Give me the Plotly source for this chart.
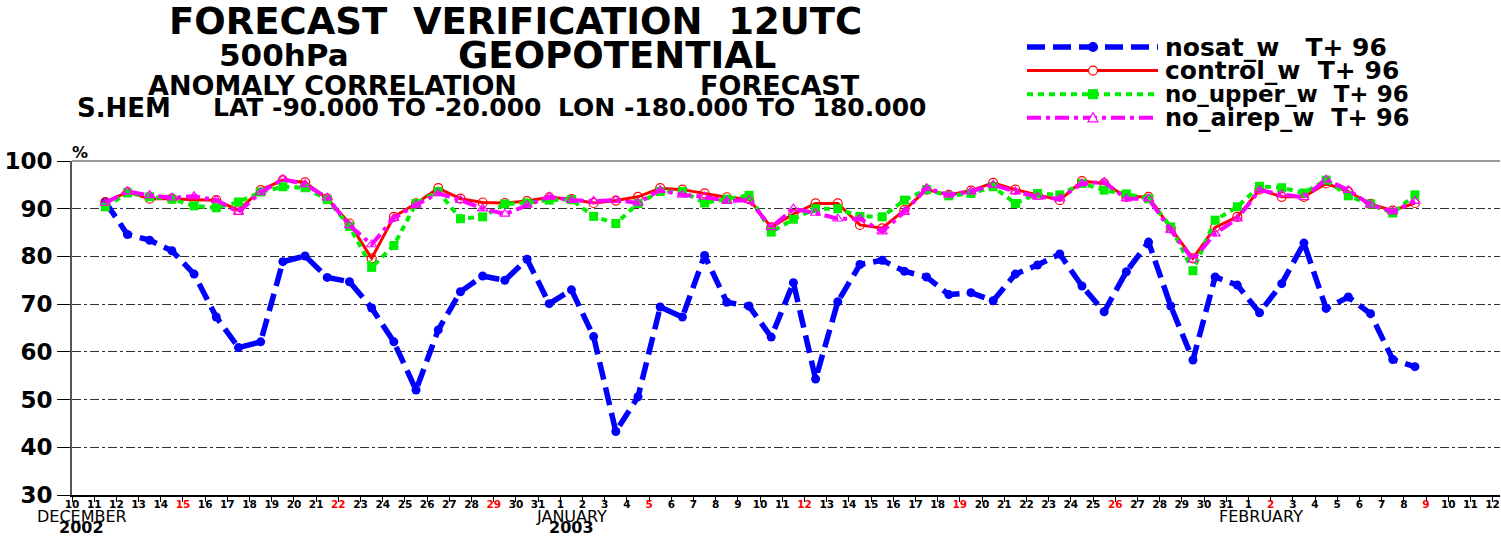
import pandas as pd
import plotly.graph_objects as go

# ---------------- data ----------------
dates = pd.date_range("2002-12-11 12:00", periods=60, freq="D")

nosat_w = [91.4, 84.6, 83.4, 81.2, 76.3, 67.3, 60.9, 62.1, 78.9, 80.1, 75.6, 74.7, 69.2, 62.1, 52.0, 64.6,
           72.6, 75.9, 75.0, 79.4, 70.1,
           73.0, 63.2, 43.3, 50.6, 69.4, 67.3, 80.2, 70.4, 69.6, 63.1, 74.5, 54.3, 70.5, 78.3, 79.2, 76.9,
           75.7, 72.0, 72.4, 70.7, 76.3, 78.2, 80.5, 73.8, 68.4, 76.8, 83.0, 69.6, 58.3, 75.7, 74.0,
           68.2, 74.3, 82.8, 69.1, 71.5, 68.0, 58.4, 56.9]
control_w = [91.4, 93.5, 92.1, 92.1, 91.9, 91.8, 89.7, 93.9, 96.0, 95.5, 92.1, 86.9, 79.6, 88.3, 91.1, 94.3,
             92.1, 91.3, 91.2, 91.6, 92.4,
             92.0, 91.2, 91.7, 92.5, 94.3, 94.0, 93.2, 92.4, 92.0, 86.1, 88.9, 91.1, 91.1, 86.6, 85.9, 89.7,
             94.0, 92.9, 93.8, 95.4, 94.0, 92.9, 91.8, 95.8, 95.3, 92.5, 92.5, 85.9, 79.6, 86.1, 88.3,
             94.0, 92.5, 92.5, 95.3, 93.6, 91.0, 89.6, 91.2]
no_upper_w = [90.4, 93.3, 92.5, 92.0, 90.6, 90.2, 91.4, 93.5, 94.6, 94.4, 91.9, 86.3, 77.7, 82.3, 91.1, 93.6,
              87.9, 88.3, 91.0, 91.2, 91.8,
              91.9, 88.4, 86.9, 91.1, 93.6, 93.6, 91.2, 92.0, 92.8, 85.1, 87.8, 90.0, 90.0, 88.4, 88.3, 91.8,
              94.0, 92.7, 93.2, 94.6, 91.1, 93.2, 92.9, 95.3, 93.9, 93.1, 92.1, 86.2, 77.0, 87.6, 90.4,
              94.7, 94.4, 93.3, 96.0, 92.7, 91.0, 89.1, 92.9]
no_airep_w = [91.2, 93.6, 92.8, 92.3, 92.6, 91.8, 89.3, 93.4, 96.2, 95.1, 92.3, 86.5, 82.5, 88.0, 90.8, 93.2,
              91.8, 90.0, 88.9, 90.8, 92.5,
              91.8, 91.6, 91.8, 91.2, 93.9, 92.9, 92.5, 91.6, 91.8, 86.1, 90.0, 89.1, 87.9, 87.9, 85.2, 89.3,
              94.3, 92.9, 93.6, 95.0, 93.6, 92.5, 92.1, 95.3, 95.6, 92.1, 92.1, 85.5, 79.3, 84.8, 87.9,
              93.9, 93.0, 92.4, 96.1, 93.9, 90.8, 89.4, 91.6]

series_names = ["nosat_w  T+ 96", "control_w  T+ 96", "no_upper_w  T+ 96", "no_airep_w  T+ 96"]

tick_days = pd.date_range("2002-12-10", "2003-02-12", freq="D")
y_ticks = [30, 40, 50, 60, 70, 80, 90, 100]

# ---------------- geometry / style ----------------
W, H = 1501, 536
L, R, T, B = 72, 1, 161, 41
FONT = "DejaVu Sans"
NB = "\u00a0"


def pp(px, py):
    return (px - L) / (W - L - R), (H - B - py) / (H - T - B)


styles = [
    dict(color="#0000ff", width=5.5, dash="18px,8px", symbol="circle", msize=9, mline=0),
    dict(color="#ff0000", width=3, dash="solid", symbol="circle-open", msize=9, mline=1.2),
    dict(color="#00ee00", width=4, dash="6px,5px", symbol="square", msize=9, mline=0),
    dict(color="#ff00ff", width=4, dash="14px,5px,4px,5px", symbol="triangle-up-open", msize=9, mline=1.2),
]
values = [nosat_w, control_w, no_upper_w, no_airep_w]

fig = go.Figure()
for name, vals, st in zip(series_names, values, styles):
    fig.add_trace(go.Scatter(
        x=dates, y=vals, name=name, mode="lines+markers",
        line=dict(color=st["color"], width=st["width"], dash=st["dash"]),
        marker=dict(symbol=st["symbol"], size=st["msize"], color=st["color"],
                    line=dict(color=st["color"], width=st["mline"])),
        showlegend=False,
    ))

ticktext = []
for d in tick_days:
    if d.dayofweek == 6:
        ticktext.append('<span style="color:#ff0000">%d</span>' % d.day)
    else:
        ticktext.append("%d" % d.day)

annotations = []
shapes = []


def text(px, py, s, size, bold=True, anchor="center"):
    x, y = pp(px, py)
    annotations.append(dict(
        x=x, y=y, xref="paper", yref="paper", text=s, showarrow=False,
        xanchor=anchor, yanchor="middle",
        font=dict(family=FONT, size=size, color="black", weight="bold" if bold else "normal"),
    ))


# titles
text(515, 21, "FORECAST" + NB * 2 + "VERIFICATION" + NB * 2 + "12UTC", 37)
text(284, 55, "500hPa", 31)
text(617, 55, "GEOPOTENTIAL", 37)
text(332, 85, "ANOMALY CORRELATION", 27)
text(780, 85, "FORECAST", 27)
text(124, 108, "S.HEM", 26)
text(377, 108, "LAT -90.000 TO -20.000", 25)
text(742, 108, "LON -180.000 TO" + NB * 2 + "180.000", 25)
text(80, 152, "%", 16)

# month / year labels under the axis
for dstr, s, size, bold, py in [
    ("2002-12-10 11:00", "DECEMBER", 16, False, 516),
    ("2002-12-10 10:00", "2002", 16, True, 527),
    ("2003-01-01 12:00", "JANUARY", 16, False, 516),
    ("2003-01-01 12:00", "2003", 16, True, 527),
    ("2003-02-01 14:00", "FEBRUARY", 16, False, 516),
]:
    _, y = pp(0, py)
    annotations.append(dict(
        x=dstr, y=y, xref="x", yref="paper", text=s, showarrow=False,
        xanchor="center", yanchor="middle",
        font=dict(family=FONT, size=size, color="black", weight="bold" if bold else "normal"),
    ))

# legend (drawn manually: long line samples)
legend_sizes = [25, 25, 23, 24]
legend_gaps = [3, 2, 2, 2]
for i, (name, st) in enumerate(zip(series_names, styles)):
    py = 47 + 23.6 * i
    x0, y0 = pp(1027, py)
    x1, _ = pp(1158, py)
    xm, _ = pp(1093, py)
    shapes.append(dict(type="line", xref="paper", yref="paper", x0=x0, x1=x1, y0=y0, y1=y0,
                       line=dict(color=st["color"], width=st["width"], dash=st["dash"])))
    s = 4.5
    if st["symbol"] in ("circle", "circle-open"):
        shapes.append(dict(type="circle", xref="paper", yref="paper", xsizemode="pixel", ysizemode="pixel",
                           xanchor=xm, yanchor=y0, x0=-s, x1=s, y0=-s, y1=s,
                           fillcolor=st["color"] if st["symbol"] == "circle" else "white",
                           line=dict(color=st["color"], width=1.2)))
    elif st["symbol"] == "square":
        shapes.append(dict(type="rect", xref="paper", yref="paper", xsizemode="pixel", ysizemode="pixel",
                           xanchor=xm, yanchor=y0, x0=-s, x1=s, y0=-s, y1=s,
                           fillcolor=st["color"], line=dict(color=st["color"], width=1)))
    else:
        shapes.append(dict(type="path", xref="paper", yref="paper", xsizemode="pixel", ysizemode="pixel",
                           xanchor=xm, yanchor=y0, path="M -5 -4 L 5 -4 L 0 5 Z",
                           fillcolor="white", line=dict(color=st["color"], width=1.2)))
    text(1163, py, name.replace("  ", NB * legend_gaps[i]), legend_sizes[i], anchor="left")

# top frame line
shapes.append(dict(type="line", xref="paper", yref="paper", x0=0, x1=1, y0=1, y1=1,
                   line=dict(color="#999999", width=2)))

fig.update_layout(
    width=W, height=H,
    margin=dict(l=L, r=R, t=T, b=B),
    paper_bgcolor="white", plot_bgcolor="white",
    showlegend=False,
    annotations=annotations, shapes=shapes,
    xaxis=dict(
        type="date", range=["2002-12-10 00:00", "2003-02-12 08:00"],
        tickmode="array", tickvals=tick_days, ticktext=ticktext, tickangle=0,
        ticks="outside", ticklen=5, tickwidth=1, tickcolor="black",
        ticklabelstandoff=-6,
        tickfont=dict(family=FONT, size=10.5, color="black", weight="bold"),
        showline=True, linecolor="black", linewidth=1.5,
        showgrid=False, zeroline=False, fixedrange=True,
    ),
    yaxis=dict(
        range=[30, 100], tickmode="array", tickvals=y_ticks,
        ticks="outside", ticklen=13, tickwidth=1, tickcolor="black",
        tickfont=dict(family=FONT, size=23, color="black", weight="bold"),
        showline=True, linecolor="#555555", linewidth=2,
        showgrid=True, gridcolor="#333333", gridwidth=1, griddash="dashdot",
        zeroline=False, fixedrange=True,
    ),
)

fig.write_html("out.html", config={"displayModeBar": False},
               post_script="document.body.style.margin='0px';")
